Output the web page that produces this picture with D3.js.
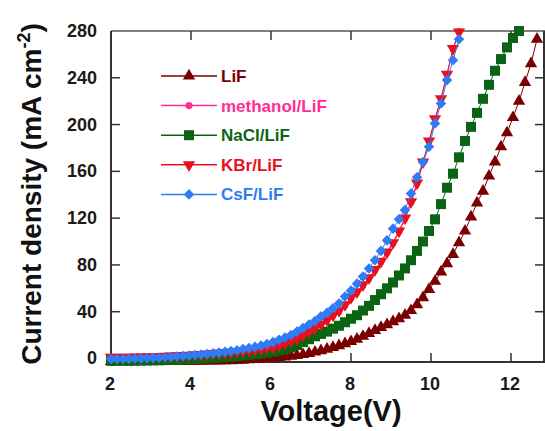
<!DOCTYPE html>
<html>
<head>
<meta charset="utf-8">
<script src="https://cdn.jsdelivr.net/npm/d3@7"></script>
<style>
  body { margin: 0; background: #fff; }
  svg { display: block; font-family: Arial, "Liberation Sans", sans-serif; }
</style>
</head>
<body>
<div id="chart"></div>
<script>
// voltage steps (V)
const voltage = [2.00, 2.15, 2.30, 2.45, 2.60, 2.75, 2.90, 3.05, 3.20, 3.35, 3.50, 3.65, 3.80, 3.95,
  4.10, 4.25, 4.40, 4.55, 4.70, 4.85, 5.00, 5.15, 5.30, 5.45, 5.60, 5.75, 5.90, 6.05, 6.20, 6.35,
  6.50, 6.65, 6.80, 6.95, 7.10, 7.25, 7.40, 7.55, 7.70, 7.85, 8.00, 8.15, 8.30, 8.45, 8.60, 8.75,
  8.90, 9.05, 9.20, 9.35, 9.50, 9.65, 9.80, 9.95, 10.10, 10.25, 10.40, 10.55, 10.70, 10.85, 11.00,
  11.15, 11.30, 11.45, 11.60, 11.75, 11.90, 12.05, 12.20, 12.35, 12.50, 12.65]

// current density (mA cm-2), one value per voltage step
const lif = [-2.5, -2.5, -2.5, -2.5, -2.5, -2.5, -2.4, -2.4, -2.4, -2.4, -2.3, -2.3, -2.3, -2.2,
  -2.2, -2.2, -2.1, -2.1, -2.0, -1.9, -1.8, -1.6, -1.4, -1.1, -0.8, -0.4, 0, 0.4, 0.9, 1.4,
  2, 2.6, 3.4, 4.4, 5.5, 6.7, 8, 9.4, 11, 12.7, 14.5, 16.5, 19, 21.5, 24, 26.5,
  29, 31.5, 34, 37, 41, 46, 52, 59, 66, 74, 81, 89, 99, 109, 121,
  133, 143, 156, 168, 181, 193, 206, 220, 236, 252, 273]
const methanol = [0.8, 0.8, 0.8, 0.9, 1.0, 1.1, 1.2, 1.3, 1.4, 1.6, 1.8, 2.0, 2.3, 2.6,
  2.9, 3.2, 3.6, 4.0, 4.4, 4.8, 5.2, 5.7, 6.2, 6.8, 7.4, 8.1, 8.8, 9.6, 10.8, 12.6,
  14.6, 16.6, 19.5, 22.5, 25.5, 29, 32.5, 36, 40, 45, 51, 56, 62, 68, 75, 82,
  90, 98, 108, 119, 133, 149, 167, 185, 204, 222, 243, 264, 280]
const nacl = [-2, -2, -2, -2, -1.9, -1.8, -1.7, -1.6, -1.5, -1.4, -1.2, -1.0, -0.8, -0.6,
  -0.4, -0.1, 0.2, 0.5, 0.9, 1.3, 1.7, 2.1, 2.6, 3.1, 3.7, 4.3, 5.0, 5.8, 6.8, 8,
  9.5, 11.5, 14, 16.5, 19, 21, 23, 25.5, 28, 31, 34, 37, 41, 45, 50, 55,
  60, 65, 71, 77, 84, 92, 100, 109, 119, 132, 146, 158, 172, 186, 198,
  210, 222, 234, 246, 256, 266, 274, 280]
const kbr = [1.0, 1.0, 1.0, 1.1, 1.2, 1.3, 1.4, 1.5, 1.6, 1.8, 2.0, 2.2, 2.5, 2.8,
  3.1, 3.4, 3.8, 4.2, 4.6, 5.0, 5.4, 5.9, 6.4, 7.0, 7.6, 8.3, 9.0, 9.8, 11, 13,
  15, 17, 20, 23, 26, 29.5, 33, 37, 41, 46, 52, 57, 63, 69, 76, 83,
  91, 99, 109, 120, 134, 150, 168, 186, 205, 222, 243, 265, 279]
const csf = [-0.5, -0.5, -0.3, -0.2, 0, 0.1, 0.3, 0.5, 0.7, 1.0, 1.3, 1.7, 2.1, 2.6,
  3.0, 3.4, 3.9, 4.4, 5.0, 5.7, 6.4, 7.1, 8.0, 8.9, 9.9, 11, 12.3, 14, 16, 18,
  20, 23, 26, 29, 32, 36, 39, 43, 47, 53, 58, 64, 70, 77, 84, 92,
  101, 111, 119, 127, 141, 155, 168, 181, 201, 218, 238, 255, 273]

const xTicks = [2, 4, 6, 8, 10, 12]
const yTicks = [0, 40, 80, 120, 160, 200, 240, 280]

const series = [
  {name: "LiF", values: lif, color: "#7a0000", symbol: d3.symbolTriangle, size: 66, rot: 0},
  {name: "methanol/LiF", values: methanol, color: "#ff2d95", symbol: d3.symbolCircle, size: 30, rot: 0},
  {name: "NaCl/LiF", values: nacl, color: "#0a6414", symbol: d3.symbolSquare, size: 100, rot: 0},
  {name: "KBr/LiF", values: kbr, color: "#e8101c", symbol: d3.symbolTriangle, size: 66, rot: 180},
  {name: "CsF/LiF", values: csf, color: "#2f7cf6", symbol: d3.symbolSquare, size: 56, rot: 45},
]

const width = 545
const height = 431
const plotLeft = 111, plotRight = 545, plotTop = 31, plotBottom = 362

const svg = d3.select("#chart").append("svg")
    .attr("width", width)
    .attr("height", height)

const x = d3.scaleLinear().domain([2, 12.85]).range([plotLeft, plotRight])
const y = d3.scaleLinear().domain([-3, 280]).range([plotBottom, plotTop])

// frame
const axisColor = "#333"
svg.append("line").attr("x1", plotLeft).attr("x2", plotRight).attr("y1", plotTop).attr("y2", plotTop)
    .attr("stroke", "#555").attr("stroke-width", 1.5)
svg.append("line").attr("x1", plotLeft).attr("x2", plotRight).attr("y1", plotBottom).attr("y2", plotBottom)
    .attr("stroke", axisColor).attr("stroke-width", 2)
svg.append("line").attr("x1", plotLeft).attr("x2", plotLeft).attr("y1", plotTop).attr("y2", plotBottom + 4)
    .attr("stroke", axisColor).attr("stroke-width", 2)
svg.append("line").attr("x1", plotRight - 1).attr("x2", plotRight - 1).attr("y1", plotTop).attr("y2", plotBottom)
    .attr("stroke", axisColor).attr("stroke-width", 2)

// inward ticks on all four sides
const tickLen = 9
const innerX = xTicks.filter(d => d > 2)
const innerY = yTicks.filter(d => d > 0 && d < 280)
svg.append("g").selectAll("line").data(innerX).join("line")
    .attr("x1", d => x(d)).attr("x2", d => x(d))
    .attr("y1", plotTop).attr("y2", plotTop + tickLen)
    .attr("stroke", axisColor).attr("stroke-width", 1.5)
svg.append("g").selectAll("line").data(innerX).join("line")
    .attr("x1", d => x(d)).attr("x2", d => x(d))
    .attr("y1", plotBottom).attr("y2", plotBottom - tickLen)
    .attr("stroke", axisColor).attr("stroke-width", 1.5)
svg.append("g").selectAll("line").data(innerY).join("line")
    .attr("x1", plotLeft).attr("x2", plotLeft + tickLen)
    .attr("y1", d => y(d)).attr("y2", d => y(d))
    .attr("stroke", axisColor).attr("stroke-width", 1.5)
svg.append("g").selectAll("line").data(innerY).join("line")
    .attr("x1", plotRight - 1).attr("x2", plotRight - 1 - tickLen)
    .attr("y1", d => y(d)).attr("y2", d => y(d))
    .attr("stroke", axisColor).attr("stroke-width", 1.5)

// tick labels
svg.append("g").selectAll("text").data(xTicks).join("text")
    .attr("x", d => x(d) - 1)
    .attr("y", 390)
    .attr("text-anchor", "middle")
    .attr("font-size", 18).attr("font-weight", "bold").attr("fill", "#1a1a1a")
    .text(d => d)
svg.append("g").selectAll("text").data(yTicks).join("text")
    .attr("x", 97)
    .attr("y", d => y(d) + 6)
    .attr("text-anchor", "end")
    .attr("font-size", 18).attr("font-weight", "bold").attr("fill", "#1a1a1a")
    .text(d => d)

// axis titles
svg.append("text")
    .attr("x", 331).attr("y", 421)
    .attr("text-anchor", "middle")
    .attr("font-size", 29).attr("font-weight", "bold").attr("fill", "#111")
    .text("Voltage(V)")

const yTitle = svg.append("text")
    .attr("transform", "translate(41,194) rotate(-90)")
    .attr("text-anchor", "middle")
    .attr("font-size", 28).attr("font-weight", "bold").attr("fill", "#111")
yTitle.append("tspan").text("Current density (mA cm")
yTitle.append("tspan").attr("dy", -11).attr("font-size", 18).text("-2")
yTitle.append("tspan").attr("dy", 11).text(")")

// series: thin line plus markers
const line = d3.line().x(d => x(d.v)).y(d => y(d.j))
series.forEach(s => {
    const pts = s.values.map((j, i) => ({v: voltage[i], j: j}))
    svg.append("path")
        .datum(pts)
        .attr("fill", "none")
        .attr("stroke", s.color)
        .attr("stroke-width", 1)
        .attr("d", line)
    svg.append("g").selectAll("path").data(pts).join("path")
        .attr("transform", d => `translate(${x(d.v)},${y(d.j)}) rotate(${s.rot})`)
        .attr("d", d3.symbol(s.symbol, s.size))
        .attr("fill", s.color)
})

// legend
const legend = svg.append("g")
series.forEach((s, i) => {
    const ly = 76 + i * 29.6
    legend.append("line")
        .attr("x1", 161).attr("x2", 217).attr("y1", ly).attr("y2", ly)
        .attr("stroke", s.color).attr("stroke-width", 1.5)
    legend.append("path")
        .attr("transform", `translate(189,${ly}) rotate(${s.rot})`)
        .attr("d", d3.symbol(s.symbol, s.symbol === d3.symbolCircle ? 40 : s.size))
        .attr("fill", s.color)
    legend.append("text")
        .attr("x", 221).attr("y", ly + 6)
        .attr("font-size", 17).attr("font-weight", "bold")
        .attr("fill", s.color)
        .text(s.name)
})
</script>
</body>
</html>
